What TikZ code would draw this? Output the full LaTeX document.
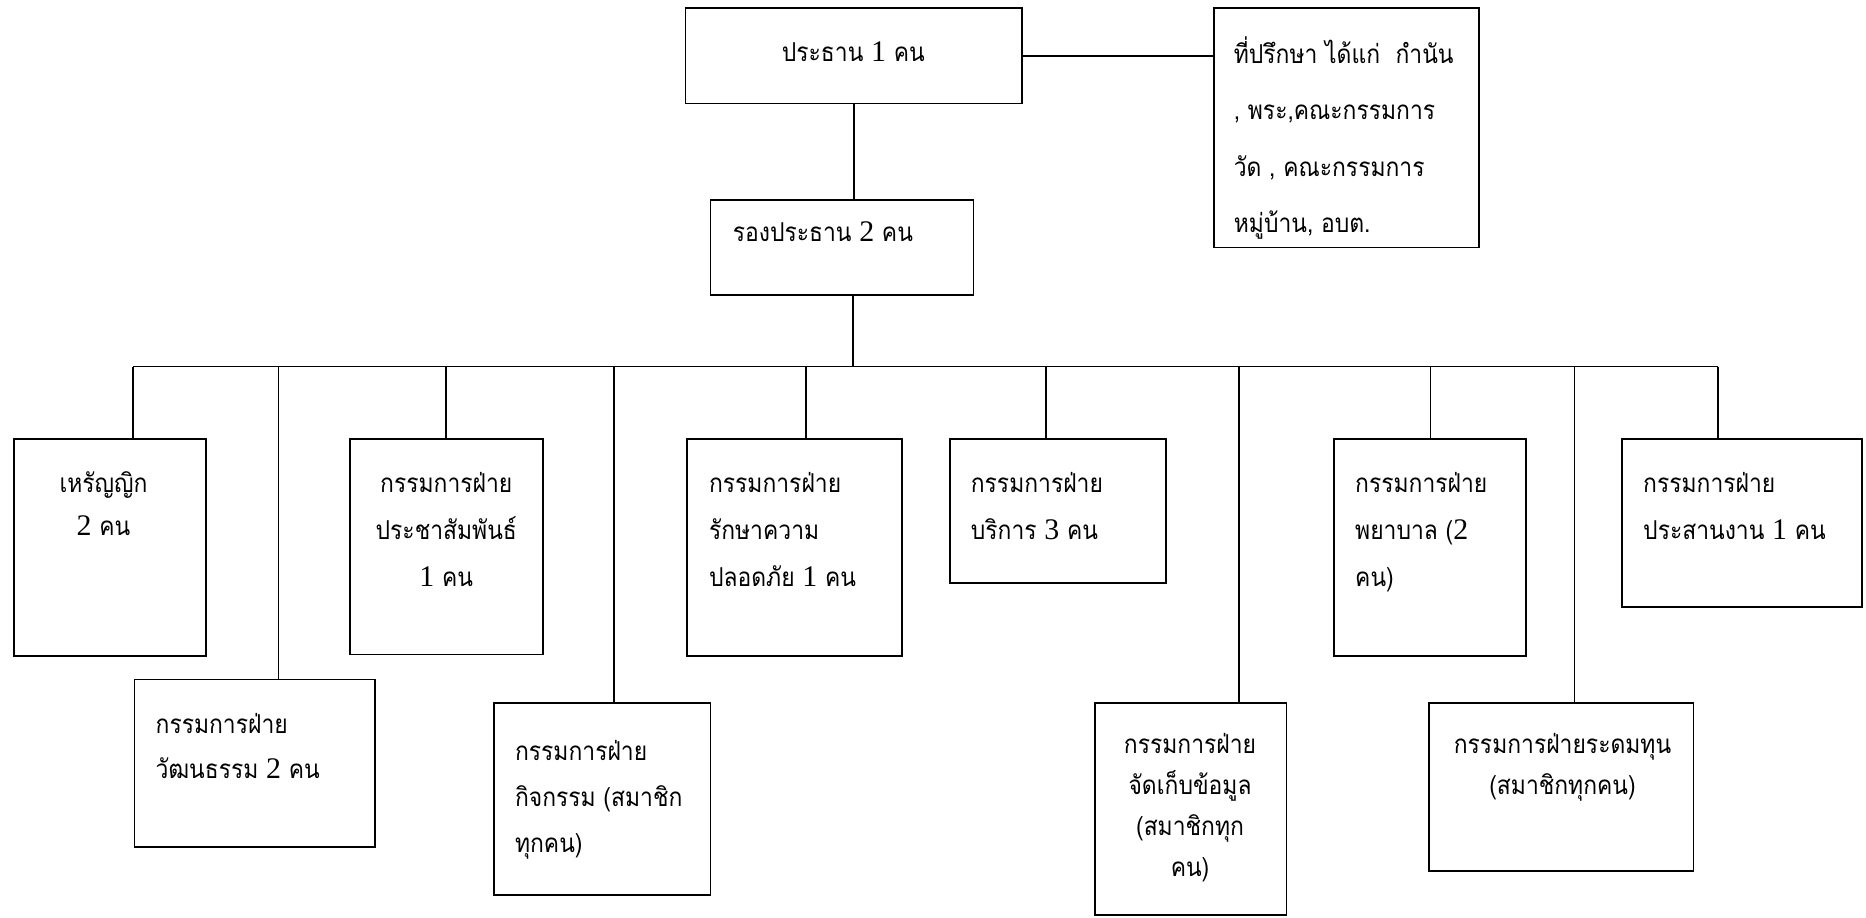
\documentclass[tikz,border=0pt]{standalone}
\usepackage{fontspec}
\setmainfont{Liberation Serif}
\newfontfamily\thaifont[Script=Thai, FakeStretch=0.88]{Loma}
\newfontfamily\latinfont[Scale=1.15]{Liberation Serif}
\newcommand\dg[1]{{\latinfont #1}}
% #1 width, #2 alignment, #3 line distance, #4 text
\newcommand\bt[4]{\parbox[t]{#1}{#2\thaifont\fontsize{13pt}{#3}\selectfont\lineskiplimit=-100pt\relax #4}}
\usetikzlibrary{fit}
\tikzset{
  orgbox/.style={draw, rectangle, inner sep=0pt, fit={#1}},
  txl/.style={inner sep=0pt, anchor=base west},
  txc/.style={inner sep=0pt, anchor=base}
}
\begin{document}
\begin{tikzpicture}[x=0.595pt, y=-0.595pt, line width=0.95pt]
\useasboundingbox (0,0) rectangle (1568,771);
% boxes
\node[orgbox={(576,7) (859,87)}] (pres) {};
\node[orgbox={(1020,7) (1243,208)}] (adv) {};
\node[orgbox={(597,168) (818,248)}] (vice) {};
\node[orgbox={(12,369) (173,551)}] (b1) {};
\node[orgbox={(113,571) (315,712)}] (b2) {};
\node[orgbox={(294,369) (456,550)}] (b3) {};
\node[orgbox={(415,591) (597,752)}] (b4) {};
\node[orgbox={(577,369) (758,551)}] (b5) {};
\node[orgbox={(798,369) (980,490)}] (b6) {};
\node[orgbox={(920,591) (1081,769)}] (b7) {};
\node[orgbox={(1121,369) (1282,551)}] (b8) {};
\node[orgbox={(1201,591) (1423,732)}] (b9) {};
\node[orgbox={(1363,369) (1565,510)}] (b10) {};
% texts
\node[txc] (tpres) at (717,52) {\bt{150pt}{\centering}{22pt}{ประธาน \dg{1} คน}};
\node[txl] (tadv) at (1036,53) {\bt{130pt}{\raggedright}{28.3pt}{ที่ปรึกษา ได้แก่~~กำนัน\\, พระ,คณะกรรมการ\\วัด , คณะกรรมการ\\หมู่บ้าน, อบต.}};
\node[txl] (tvice) at (615,203) {\bt{130pt}{\raggedright}{22pt}{รองประธาน \dg{2} คน}};
\node[txc] (t1) at (87,414) {\bt{90pt}{\centering}{21.4pt}{เหรัญญิก\\\dg{2} คน}};
\node[txl] (t2) at (130,616) {\bt{110pt}{\raggedright}{22.6pt}{กรรมการฝ่าย\\วัฒนธรรม \dg{2} คน}};
\node[txc] (t3) at (375,414) {\bt{95pt}{\centering}{23.5pt}{กรรมการฝ่าย\\ประชาสัมพันธ์\\\dg{1} คน}};
\node[txl] (t4) at (432,639) {\bt{100pt}{\raggedright}{22.9pt}{กรรมการฝ่าย\\กิจกรรม (สมาชิก\\ทุกคน)}};
\node[txl] (t5) at (595,414) {\bt{100pt}{\raggedright}{23.5pt}{กรรมการฝ่าย\\รักษาความ\\ปลอดภัย \dg{1} คน}};
\node[txl] (t6) at (815,414) {\bt{100pt}{\raggedright}{23.5pt}{กรรมการฝ่าย\\บริการ \dg{3} คน}};
\node[txc] (t7) at (1000,633) {\bt{95pt}{\centering}{20.5pt}{กรรมการฝ่าย\\จัดเก็บข้อมูล\\(สมาชิกทุก\\คน)}};
\node[txl] (t8) at (1138,414) {\bt{90pt}{\raggedright}{23.5pt}{กรรมการฝ่าย\\พยาบาล (\dg{2}\\คน)}};
\node[txc] (t9) at (1313,633) {\bt{130pt}{\centering}{20.5pt}{กรรมการฝ่ายระดมทุน\\(สมาชิกทุกคน)}};
\node[txl] (t10) at (1380,414) {\bt{115pt}{\raggedright}{23.5pt}{กรรมการฝ่าย\\ประสานงาน \dg{1} คน}};
% connectors
\coordinate (bj) at (717,308);
\coordinate (d1) at (112,308);
\coordinate (d2) at (234,308);
\coordinate (d3) at (375,308);
\coordinate (d4) at (516,308);
\coordinate (d5) at (677,308);
\coordinate (d6) at (879,308);
\coordinate (d7) at (1041,308);
\coordinate (d8) at (1202,308);
\coordinate (d9) at (1323,308);
\coordinate (d10) at (1444,308);
\draw (pres.east) -- (pres.east -| adv.west);
\draw (pres.south) -- (pres.south |- vice.north);
\draw (bj |- vice.south) -- (bj);
\draw (d1) -- (d10);
\draw (d1) -- (d1 |- b1.north);
\draw (d2) -- (d2 |- b2.north);
\draw (d3) -- (d3 |- b3.north);
\draw (d4) -- (d4 |- b4.north);
\draw (d5) -- (d5 |- b5.north);
\draw (d6) -- (d6 |- b6.north);
\draw (d7) -- (d7 |- b7.north);
\draw (d8) -- (d8 |- b8.north);
\draw (d9) -- (d9 |- b9.north);
\draw (d10) -- (d10 |- b10.north);
\end{tikzpicture}
\end{document}
